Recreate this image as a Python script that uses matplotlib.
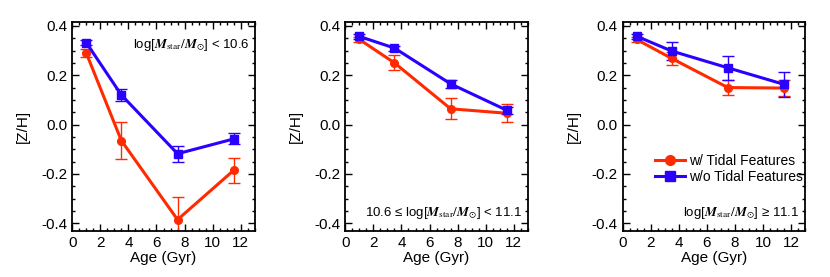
import numpy as np
import matplotlib.pyplot as plt
from matplotlib.ticker import MultipleLocator
from matplotlib.lines import Line2D

plt.rcParams['font.family'] = ['Liberation Sans', 'DejaVu Sans']
plt.rcParams['mathtext.fontset'] = 'stix'

age = [1.0, 3.5, 7.5, 11.5]

# w/ tidal features (red)
red_z = [[0.29, -0.065, -0.385, -0.185],
         [0.345, 0.25, 0.064, 0.046],
         [0.345, 0.268, 0.15, 0.148]]
red_err = [[0.018, 0.074, 0.09, 0.05],
           [0.01, 0.03, 0.043, 0.037],
           [0.01, 0.025, 0.03, 0.034]]

# w/o tidal features (blue)
blue_z = [[0.332, 0.12, -0.118, -0.058],
          [0.357, 0.31, 0.165, 0.058],
          [0.358, 0.298, 0.23, 0.163]]
blue_err = [[0.01, 0.024, 0.032, 0.022],
            [0.01, 0.01, 0.015, 0.015],
            [0.01, 0.037, 0.049, 0.05]]

labels = [r'log[$\mathbfit{M}_{\rm star}/\mathbfit{M}_{\odot}$] < 10.6',
          r'10.6 ≤ log[$\mathbfit{M}_{\rm star}/\mathbfit{M}_{\odot}$] < 11.1',
          r'log[$\mathbfit{M}_{\rm star}/\mathbfit{M}_{\odot}$] ≥ 11.1']
label_pos = [(0.97, 0.93, 'top'), (0.97, 0.05, 'bottom'), (0.97, 0.05, 'bottom')]

red = '#ff2a00'
blue = '#2a00ff'

fig = plt.figure(figsize=(8.3, 2.77), dpi=100)
lefts = [0.087, 0.416, 0.750]
for i in range(3):
    ax = fig.add_axes([lefts[i], 0.166, 0.220, 0.755])
    ax.errorbar(age, red_z[i], yerr=red_err[i], color=red, lw=2.2, marker='o', ms=5.5,
                capsize=4, elinewidth=1.0, capthick=1.0)
    ax.errorbar(age, blue_z[i], yerr=blue_err[i], color=blue, lw=2.2, marker='s', ms=5.5,
                capsize=4, elinewidth=1.0, capthick=1.0)
    ax.set_xlim(0, 13.0)
    ax.set_ylim(-0.431, 0.416)
    ax.xaxis.set_major_locator(MultipleLocator(2))
    ax.xaxis.set_minor_locator(MultipleLocator(0.5))
    ax.yaxis.set_major_locator(MultipleLocator(0.2))
    ax.yaxis.set_minor_locator(MultipleLocator(0.05))
    ax.tick_params(which='both', direction='in', top=True, right=True, labelsize=11, width=1)
    ax.tick_params(which='major', length=5)
    ax.tick_params(which='minor', length=2.5)
    ax.set_yticks([-0.4, -0.2, 0.0, 0.2, 0.4])
    ax.set_yticklabels(['-0.4', '-0.2', '0.0', '0.2', '0.4'])
    for s in ax.spines.values():
        s.set_linewidth(1.3)
    ax.set_xlabel('Age (Gyr)', fontsize=11, labelpad=1)
    ax.set_ylabel('[Z/H]', fontsize=11, labelpad=8)
    x, y, va = label_pos[i]
    ax.text(x, y, labels[i], transform=ax.transAxes, ha='right', va=va, fontsize=9.5)
    if i == 2:
        handles = [Line2D([], [], color=red, lw=2.2, marker='o', ms=7),
                   Line2D([], [], color=blue, lw=2.2, marker='s', ms=7)]
        ax.legend(handles, ['w/ Tidal Features', 'w/o Tidal Features'],
                  loc='lower right', bbox_to_anchor=(1.02, 0.2), frameon=False, fontsize=10,
                  handlelength=2.2, handletextpad=0.3, labelspacing=0.15, borderaxespad=0)

fig.savefig('out.png', dpi=100)
